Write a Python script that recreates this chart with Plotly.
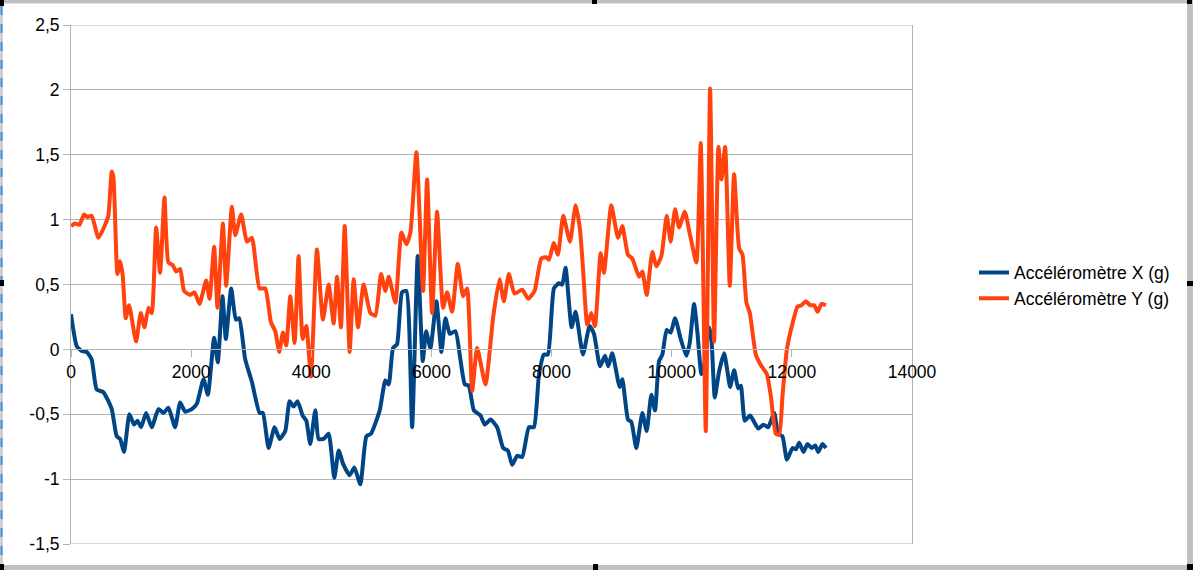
import plotly.graph_objects as go

# ---- data ----
time_x = [0, 95, 178, 261, 344, 428, 539, 678, 761, 817, 883, 972, 1050, 1106, 1167, 1250, 1344, 1456, 1539,
          1622, 1733, 1817, 1900, 2011, 2094, 2206, 2278, 2383, 2444, 2522, 2578, 2667, 2744, 2800, 2900, 3011,
          3139, 3194, 3289, 3389, 3472, 3567, 3639, 3706, 3772, 3856, 3917, 3983, 4067, 4122, 4206, 4289, 4383,
          4456, 4528, 4639, 4717, 4817, 4917, 4994, 5139, 5233, 5289, 5361, 5428, 5511, 5583, 5678, 5772, 5856,
          5911, 5983, 6083, 6167, 6233, 6306, 6400, 6483, 6556, 6622, 6706, 6817, 6889, 6983, 7094, 7194, 7272,
          7344, 7428, 7511, 7622, 7706, 7789, 7872, 7939, 8039, 8122, 8178, 8233, 8333, 8400, 8522, 8633, 8706,
          8806, 8889, 8944, 9011, 9133, 9178, 9272, 9328, 9411, 9511, 9583, 9661, 9722, 9789, 9844, 9917, 9983,
          10056, 10150, 10244, 10300, 10372, 10428, 10494, 10539, 10622, 10661, 10717, 10789, 10872, 10928, 10972,
          11039, 11106, 11150, 11217, 11306, 11439, 11528, 11606, 11706, 11772, 11844, 11917, 12011, 12067, 12122,
          12194, 12261, 12333, 12389, 12439, 12511, 12567]
acc_x = [0.27, 0.025, -0.013, -0.02, -0.077, -0.31, -0.33, -0.46, -0.67, -0.69, -0.79, -0.5, -0.58, -0.55, -0.6,
         -0.49, -0.6, -0.46, -0.49, -0.45, -0.6, -0.41, -0.48, -0.46, -0.42, -0.23, -0.35, 0.09, -0.10, 0.41, 0.08,
         0.47, 0.23, 0.24, -0.077, -0.25, -0.49, -0.49, -0.76, -0.6, -0.69, -0.63, -0.40, -0.44, -0.40, -0.51,
         -0.55, -0.73, -0.47, -0.69, -0.69, -0.65, -0.99, -0.78, -0.88, -0.97, -0.91, -1.04, -0.67, -0.65, -0.47,
         -0.24, -0.27, 0.01, 0.04, 0.44, 0.45, -0.6, 0.72, -0.09, 0.14, 0.01, 0.37, -0.02, 0.24, 0.12, 0.14, -0.08,
         -0.27, -0.28, -0.47, -0.51, -0.58, -0.54, -0.6, -0.76, -0.78, -0.89, -0.82, -0.83, -0.6, -0.6, -0.2,
         -0.04, -0.04, 0.47, 0.51, 0.5, 0.63, 0.17, 0.29, -0.04, 0.18, 0.12, -0.13, -0.05, -0.13, -0.03, -0.29,
         -0.23, -0.54, -0.56, -0.76, -0.49, -0.63, -0.35, -0.47, -0.09, -0.04, 0.15, 0.13, 0.24, 0.08, -0.05, 0.05,
         0.35, 0.13, -0.19, -0.13, 0.17, 0.08, -0.37, -0.17, -0.03, -0.17, -0.29, -0.16, -0.3, -0.28, -0.55, -0.51,
         -0.61, -0.58, -0.6, -0.49, -0.65, -0.67, -0.85, -0.76, -0.77, -0.72, -0.79, -0.73, -0.76, -0.74, -0.79,
         -0.73, -0.76]

time_y = [0, 67, 139, 217, 272, 344, 456, 567, 622, 678, 706, 772, 817, 861, 911, 967, 1083, 1161, 1222, 1289,
          1344, 1417, 1483, 1556, 1622, 1694, 1750, 1817, 1883, 1983, 2056, 2139, 2250, 2306, 2383, 2439, 2528,
          2583, 2678, 2733, 2833, 2928, 3011, 3139, 3233, 3328, 3400, 3467, 3528, 3583, 3650, 3722, 3789, 3856,
          3917, 3994, 4094, 4194, 4289, 4372, 4428, 4494, 4556, 4639, 4706, 4778, 4872, 4983, 5067, 5161, 5233,
          5289, 5400, 5500, 5583, 5650, 5750, 5861, 5928, 6011, 6094, 6194, 6261, 6344, 6439, 6528, 6594, 6678,
          6761, 6900, 7028, 7133, 7206, 7289, 7383, 7511, 7611, 7717, 7828, 7911, 7956, 8039, 8106, 8194, 8306,
          8400, 8472, 8528, 8594, 8661, 8722, 8817, 8872, 8994, 9106, 9178, 9272, 9344, 9456, 9511, 9583, 9678,
          9744, 9828, 9917, 9983, 10056, 10122, 10217, 10306, 10411, 10483, 10567, 10639, 10706, 10778, 10828,
          10889, 10967, 11039, 11122, 11178, 11244, 11300, 11400, 11483, 11583, 11650, 11733, 11789, 11844, 11917,
          12011, 12094, 12161, 12233, 12306, 12372, 12428, 12494, 12567]
acc_y = [0.95, 0.97, 0.96, 1.04, 1.02, 1.03, 0.86, 0.96, 1.03, 1.37, 1.33, 0.58, 0.68, 0.57, 0.24, 0.34, 0.06,
         0.28, 0.17, 0.32, 0.28, 0.94, 0.59, 1.17, 0.67, 0.65, 0.6, 0.62, 0.45, 0.42, 0.44, 0.35, 0.53, 0.39, 0.79,
         0.32, 0.97, 0.49, 1.1, 0.88, 1.04, 0.83, 0.86, 0.47, 0.47, 0.21, 0.14, -0.02, 0.13, 0.03, 0.41, 0.05,
         0.72, 0.08, 0.18, -0.21, 0.77, 0.23, 0.5, 0.2, 0.56, 0.17, 0.95, -0.02, 0.54, 0.17, 0.5, 0.28, 0.26, 0.58,
         0.45, 0.56, 0.36, 0.9, 0.81, 0.9, 1.52, 0.45, 1.31, 0.28, 1.06, 0.32, 0.44, 0.29, 0.66, 0.41, 0.47, -0.32,
         0.01, -0.27, 0.25, 0.54, 0.37, 0.58, 0.43, 0.46, 0.39, 0.45, 0.7, 0.71, 0.69, 0.82, 0.73, 1.03, 0.83,
         1.11, 0.93, 0.59, 0.19, 0.28, 0.18, 0.74, 0.59, 1.11, 0.86, 0.95, 0.73, 0.7, 0.56, 0.6, 0.42, 0.75, 0.64,
         0.72, 1.03, 0.83, 1.08, 0.94, 1.06, 0.88, 0.67, 1.59, -0.63, 2.01, 0.06, 1.56, 1.31, 1.56, 0.49, 1.35,
         0.78, 0.73, 0.36, 0.28, -0.04, -0.12, -0.19, -0.36, -0.65, -0.66, -0.36, 0.0, 0.2, 0.33, 0.34, 0.37, 0.34,
         0.34, 0.29, 0.35, 0.34]

series_names = ["Accéléromètre X (g)", "Accéléromètre Y (g)"]
series_colors = ["#004586", "#ff420e"]

y_tickvals = [-1.5, -1.0, -0.5, 0.0, 0.5, 1.0, 1.5, 2.0, 2.5]
y_ticktext = ["-1,5", "-1", "-0,5", "0", "0,5", "1", "1,5", "2", "2,5"]
x_tickvals = [0, 2000, 4000, 6000, 8000, 10000, 12000, 14000]
x_ticktext = ["0", "2000", "4000", "6000", "8000", "10000", "12000", "14000"]

# ---- figure ----
W, H = 1193, 570
L, R, T, B = 71, 281, 25, 26
PW, PH = W - L - R, H - T - B

def px(xp):
    return (xp - L) / PW

def py(yp):
    return (H - B - yp) / PH

FONT = "Liberation Sans, Arial, sans-serif"
GRID = "#b3b3b3"

fig = go.Figure()
fig.add_trace(go.Scatter(x=time_x, y=acc_x, mode="lines", name=series_names[0],
                         line=dict(color=series_colors[0], width=4, shape="spline", smoothing=0.5)))
fig.add_trace(go.Scatter(x=time_y, y=acc_y, mode="lines", name=series_names[1],
                         line=dict(color=series_colors[1], width=4, shape="spline", smoothing=0.5)))

shapes = []
# top and bottom gridlines of the chart wall (at the range limits)
for yv in (y_tickvals[0], y_tickvals[-1]):
    shapes.append(dict(type="line", xref="paper", yref="y", x0=0, x1=1, y0=yv, y1=yv,
                       line=dict(color=GRID, width=1), layer="below"))

def rect(x0, y0, x1, y1, color):
    shapes.append(dict(type="rect", xref="paper", yref="paper", x0=px(x0), x1=px(x1), y0=py(y1), y1=py(y0),
                       fillcolor=color, line=dict(width=0), layer="above"))

# window frame decoration
rect(0, 0, W, 3.5, "#c0c0c0")
rect(1187, 0, W, H, "#c0c0c0")
rect(0, 565, W, H, "#c0c0c0")
rect(0, 0, 3, H, "#d0d0d0")
shapes.append(dict(type="line", xref="paper", yref="paper", x0=px(1.5), x1=px(1.5), y0=py(6), y1=py(563),
                   line=dict(color="#3d8fe0", width=2, dash="dash"), layer="above"))
for (hx, hy, hw, hh) in [(0, 0, 4, 6), (592, 0, 5, 4), (1187, 0, 5, 4), (0, 280, 4, 6), (1187, 281, 6, 5),
                         (0, 564, 4, 6), (593, 564, 5, 6), (1187, 564, 6, 6)]:
    rect(hx, hy, hx + hw, hy + hh, "#000000")

fig.update_layout(
    width=W, height=H,
    margin=dict(l=L, r=R, t=T, b=B, pad=0),
    paper_bgcolor="white", plot_bgcolor="white",
    font=dict(family=FONT, size=17.5, color="#000000"),
    showlegend=True,
    legend=dict(x=px(974), y=py(254.5), xanchor="left", yanchor="top",
                font=dict(family=FONT, size=17.5, color="#000000"),
                bgcolor="rgba(0,0,0,0)", borderwidth=0, itemwidth=30),
    xaxis=dict(range=[0, 14000], anchor="free", position=0.375, showgrid=False, zeroline=False,
               showline=True, linecolor=GRID, linewidth=1, ticks="outside", ticklen=7, tickcolor=GRID,
               tickvals=x_tickvals, ticktext=x_ticktext, tickfont=dict(family=FONT, size=17.5, color="#000")),
    yaxis=dict(range=[-1.5, 2.5], showgrid=True, gridcolor=GRID, gridwidth=1, zeroline=False,
               showline=True, linecolor=GRID, linewidth=1, mirror=True, ticks="outside", ticklen=7,
               tickcolor=GRID, tickvals=y_tickvals, ticktext=y_ticktext,
               tickfont=dict(family=FONT, size=17.5, color="#000")),
    shapes=shapes,
)

fig.write_html("out.html")
